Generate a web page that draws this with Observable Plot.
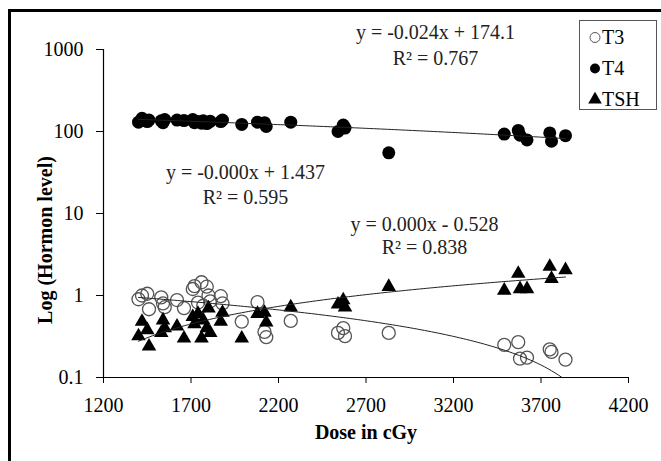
<!DOCTYPE html>
<html>
<head>
<meta charset="utf-8">
<script src="https://cdn.jsdelivr.net/npm/d3@7"></script>
<script src="https://cdn.jsdelivr.net/npm/@observablehq/plot@0.6"></script>
<style>
  html, body { margin: 0; padding: 0; background: #fff; }
  #wrap { position: relative; width: 661px; height: 461px; overflow: hidden; font-family: "Liberation Serif", "Times New Roman", serif; }
  #frame { position: absolute; left: 8px; top: 9px; width: 720px; height: 520px; border-left: 3px solid #000; border-top: 3px solid #000; }
  #chart { position: absolute; left: 0; top: 0; }
  #ytitle { position: absolute; left: 45px; top: 240px; transform: translate(-50%, -50%) rotate(-90deg); font-weight: bold; font-size: 20px; white-space: nowrap; color: #000; }
  #legend { position: absolute; left: 579px; top: 20px; width: 76px; height: 88px; border: 1px solid #555; background: #fff; }
  .item { position: absolute; left: 0; height: 24px; line-height: 24px; font-size: 20px; color: #000; white-space: nowrap; }
  .item svg { position: absolute; left: 8px; top: 5px; }
  .item span { position: absolute; left: 22px; top: 0; }
</style>
</head>
<body>
<div id="wrap">
  <div id="frame"></div>
  <div id="chart"></div>
  <div id="ytitle"></div>
  <div id="legend"></div>
</div>
<script>
// ---- data ----
const doses = [1400, 1420, 1450, 1460, 1530, 1540, 1550, 1620, 1660, 1710, 1720, 1740, 1760, 1770, 1790, 1800, 1810, 1870, 1880, 1990, 2080, 2120, 2130, 2270, 2540, 2570, 2580, 2830, 3490, 3570, 3580, 3620, 3750, 3760, 3840];
const t3Values = [0.9, 1.0, 1.05, 0.68, 0.95, 0.8, 0.72, 0.88, 0.7, 1.2, 1.3, 0.82, 1.45, 0.75, 1.28, 1.0, 0.85, 0.98, 0.8, 0.48, 0.83, 0.36, 0.31, 0.49, 0.35, 0.4, 0.32, 0.35, 0.25, 0.27, 0.17, 0.175, 0.22, 0.205, 0.165];
const t4Values = [130, 145, 132, 138, 135, 128, 140, 138, 136, 140, 128, 132, 126, 135, 125, 130, 133, 132, 138, 122, 130, 128, 115, 130, 100, 120, 110, 55, 93, 103, 90, 79, 96, 76, 89];
const tshValues = [0.32, 0.48, 0.38, 0.24, 0.35, 0.5, 0.4, 0.42, 0.3, 0.55, 0.45, 0.6, 0.3, 0.5, 0.4, 0.7, 0.35, 0.48, 0.62, 0.3, 0.6, 0.62, 0.47, 0.72, 0.78, 0.88, 0.72, 1.28, 1.15, 1.85, 1.2, 1.2, 2.25, 1.6, 2.05];
const seriesNames = ["T3", "T4", "TSH"];
const trendSlopes = [-0.00035, -0.024, 0.000575];
const trendIntercepts = [1.437, 174.1, -0.528];
const trendLabels = ["y = -0.000x + 1.437\nR² = 0.595", "y = -0.024x + 174.1\nR² = 0.767", "y = 0.000x - 0.528\nR² = 0.838"];
const xTicks = [1200, 1700, 2200, 2700, 3200, 3700, 4200];
const yTicks = [0.1, 1, 10, 100, 1000];
const xTitle = "Dose in cGy";
const yTitle = "Log (Hormon level)";

// ---- build tables ----
const points = (vals, name) => doses.map((d, i) => ({dose: d, value: vals[i], series: name}));
const trendLine = (k) => {
  const m = trendSlopes[k], b = trendIntercepts[k];
  const x0 = d3.min(doses);
  let x1 = d3.max(doses);
  if (m < 0 && (0.1 - b) / m < x1) x1 = (0.1 - b) / m;
  return d3.range(0, 121).map(i => { const x = x0 + (x1 - x0) * i / 120; return {dose: x, value: m * x + b}; });
};

const chart = Plot.plot({
  width: 661,
  height: 461,
  marginLeft: 103,
  marginRight: 33,
  marginTop: 49,
  marginBottom: 84,
  style: {fontFamily: '"Liberation Serif", "Times New Roman", serif', fontSize: "20px", color: "#000", background: "transparent", overflow: "visible"},
  x: {domain: [1200, 4200], ticks: xTicks, tickSize: 6, tickPadding: 14, tickFormat: d => String(d), label: null},
  y: {type: "log", domain: [0.1, 1000], ticks: yTicks, tickSize: 7, tickPadding: 13, tickFormat: d => String(d), label: null},
  marks: [
    Plot.ruleX([1200], {stroke: "#000", strokeWidth: 1.2}),
    Plot.ruleY([0.1], {stroke: "#000", strokeWidth: 1.2}),
    Plot.dot(points(t3Values, seriesNames[0]), {x: "dose", y: "value", r: 6.5, fill: "none", stroke: "#555", strokeWidth: 1.3}),
    Plot.dot(points(t4Values, seriesNames[1]), {x: "dose", y: "value", r: 6.5, fill: "#000", stroke: "none"}),
    Plot.dot(points(tshValues, seriesNames[2]), {x: "dose", y: "value", symbol: "triangle", r: 5.4, fill: "#000", stroke: "none"}),
    Plot.line(trendLine(0), {x: "dose", y: "value", stroke: "#222", strokeWidth: 1}),
    Plot.line(trendLine(1), {x: "dose", y: "value", stroke: "#222", strokeWidth: 1}),
    Plot.line(trendLine(2), {x: "dose", y: "value", stroke: "#222", strokeWidth: 1}),
    Plot.text([trendLabels[1]], {frameAnchor: "top-left", dx: 332, dy: -6, textAnchor: "middle", lineAnchor: "middle", lineHeight: 1.3, fontSize: 20, fill: "#222"}),
    Plot.text([trendLabels[0]], {frameAnchor: "top-left", dx: 142, dy: 134, textAnchor: "middle", lineAnchor: "middle", lineHeight: 1.22, fontSize: 20, fill: "#222"}),
    Plot.text([trendLabels[2]], {frameAnchor: "top-left", dx: 321, dy: 186, textAnchor: "middle", lineAnchor: "middle", lineHeight: 1.12, fontSize: 20, fill: "#222"}),
    Plot.text([xTitle], {frameAnchor: "bottom", dy: 61, fontWeight: "bold", fontSize: 20, fill: "#000"})
  ]
});
document.getElementById("chart").appendChild(chart);
document.getElementById("ytitle").textContent = yTitle;

// ---- legend ----
const legend = d3.select("#legend");
const symbols = [d3.symbolCircle, d3.symbolCircle, d3.symbolTriangle];
const legendTops = [4, 35, 66];
seriesNames.forEach((name, i) => {
  const item = legend.append("div").attr("class", "item").style("top", legendTops[i] + "px");
  const svg = item.append("svg").attr("width", 14).attr("height", 14);
  const sym = d3.symbol(symbols[i], i === 2 ? 80 : 78)();
  svg.append("path").attr("d", sym).attr("transform", "translate(7,7.5)")
    .attr("fill", i === 0 ? "none" : "#000")
    .attr("stroke", i === 0 ? "#555" : "none")
    .attr("stroke-width", 1);
  item.append("span").text(name);
});
</script>
</body>
</html>
